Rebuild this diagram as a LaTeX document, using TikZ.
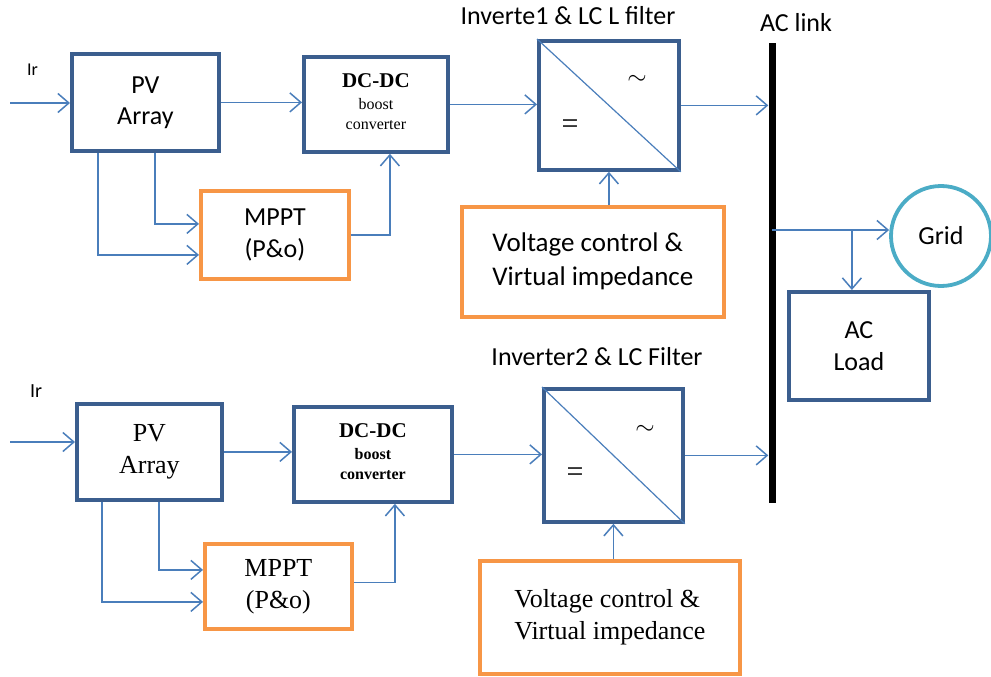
\documentclass[tikz,border=0pt]{standalone}
\usepackage{fontspec}
\setmainfont{Carlito}
\newfontfamily\tnr{Liberation Serif}
\usetikzlibrary{arrows.meta,calc}
\definecolor{boxblue}{HTML}{3B5E8E}
\definecolor{lineblue}{HTML}{4A7EBB}
\definecolor{orng}{HTML}{F79646}
\definecolor{tealc}{HTML}{4BACC6}
\begin{document}
\begin{tikzpicture}[x=1pt,y=-1pt,
  bbox/.style={draw=boxblue, line width=3.8pt, fill=white, inner sep=0pt, align=center, anchor=north west},
  obox/.style={draw=orng, line width=3.8pt, fill=white, inner sep=0pt, align=center, anchor=north west},
  arr/.style={draw=lineblue, line width=1.5pt, -{Straight Barb[length=11pt,width=19pt,line width=1.5pt]}},
  ln/.style={draw=lineblue, line width=1.5pt},
  big/.style={font=\fontsize{26}{32}\selectfont},
  bigser/.style={font=\tnr\fontsize{26}{32}\selectfont},
  sym/.style={font=\fontsize{28}{28}\selectfont, inner sep=0pt},
  eqsym/.style={font=\tnr\fontsize{30}{30}\selectfont, inner sep=0pt},
  lbl/.style={inner sep=0pt, anchor=base}]
\useasboundingbox (0,0) rectangle (991,677);
\fill[white] (0,0) rectangle (991,677);

% ---------- top chain ----------
\node[lbl, anchor=base west, font=\fontsize{18}{20}\selectfont] (ir1) at (27,75) {Ir};
\node[bbox, big, minimum width=147pt, minimum height=97pt] (pv1) at (70,52) {PV\\[-1pt]Array};
\node[bbox, minimum width=144pt, minimum height=95pt, font=\tnr\fontsize{16}{20}\selectfont] (dc1) at (302,55)
  {\begin{tabular}{@{}c@{}}\fontsize{21}{24}\selectfont\bfseries DC-DC\\[2pt]boost\\converter\end{tabular}};
\node[obox, big, minimum width=148pt, minimum height=88pt] (mppt1) at (199,189) {MPPT\\(P\&o)};
\node[bbox, minimum width=140pt, minimum height=129pt] (inv1) at (537,39) {};
\draw[ln, line width=1.2pt] (inv1.north west) -- (inv1.south east);
\node[sym] (ac1) at (637,80) {$\sim$};
\node[eqsym] (eq1) at (570,127) {=};
\node[lbl, big] (t1) at (568,25) {Inverte1 \& LC L filter};
\node[obox, font=\fontsize{27}{34}\selectfont, minimum width=262pt, minimum height=110pt] (vc1) at (460,205)
  {\begin{tabular}{@{}l@{}}Voltage control \&\\Virtual impedance\end{tabular}};

\coordinate (in1) at (10,103);
\draw[arr] (in1) -- (in1 -| pv1.west);
\draw[arr] (pv1.east) -- (pv1.east -| dc1.west);
\draw[arr] ([xshift=9.5pt]pv1.south) |- ([yshift=11pt]mppt1.west);
\draw[arr] ([xshift=-47.5pt]pv1.south) |- ([yshift=-20pt]mppt1.west);
\draw[arr] (mppt1.east) -| ([xshift=14pt]dc1.south);
\draw[arr] (dc1.east) -- (dc1.east -| inv1.west);
\draw[arr] (vc1.north -| inv1.south) -- (inv1.south);

% ---------- AC link ----------
\node[fill=black, inner sep=0pt, minimum width=7pt, minimum height=460pt] (bar) at (772,273) {};
\node[lbl, big] (aclink) at (796,32) {AC link};
\draw[arr] (inv1.east) -- (inv1.east -| bar.west);
\node[circle, draw=tealc, line width=3.8pt, minimum size=100pt, inner sep=0pt, big] (grid) at (941,236) {Grid};
\node[bbox, big, minimum width=140pt, minimum height=108pt] (load) at (787,290) {AC\\Load};
\coordinate (j1) at (772,230);
\draw[arr] (j1) -- (j1 -| grid.west);
\draw[arr] ([xshift=-7pt]load.north |- j1) -- ([xshift=-7pt]load.north);

% ---------- bottom chain ----------
\node[lbl, anchor=base west, font=\fontsize{20}{22}\selectfont] (ir2) at (30,397) {Ir};
\node[bbox, bigser, minimum width=145pt, minimum height=96pt] (pv2) at (75,402) {PV\\Array};
\node[bbox, minimum width=158pt, minimum height=95pt, font=\tnr\bfseries\fontsize{16}{20}\selectfont] (dc2) at (292,405)
  {\begin{tabular}{@{}c@{}}\fontsize{21}{24}\selectfont DC-DC\\[2pt]boost\\converter\end{tabular}};
\node[obox, bigser, minimum width=147pt, minimum height=85pt] (mppt2) at (203,542) {MPPT\\(P\&o)};
\node[bbox, minimum width=139pt, minimum height=133pt] (inv2) at (542,387) {};
\draw[ln, line width=1.2pt] (inv2.north west) -- (inv2.south east);
\node[sym] (ac2) at (645,430) {$\sim$};
\node[eqsym] (eq2) at (575,475) {=};
\node[lbl, big] (t2) at (597,365) {Inverter2 \& LC Filter};
\node[obox, font=\tnr\fontsize{26}{32}\selectfont, minimum width=260pt, minimum height=113pt] (vc2) at (478,559)
  {\begin{tabular}{@{}l@{}}Voltage control \&\\Virtual impedance\end{tabular}};

\coordinate (in2) at (10,442);
\draw[arr] (in2) -- (in2 -| pv2.west);
\draw[arr] (pv2.east) -- (pv2.east -| dc2.west);
\draw[arr] ([xshift=9.5pt]pv2.south) |- ([yshift=16.5pt]mppt2.west);
\draw[arr] ([xshift=-47.5pt]pv2.south) |- ([yshift=-15.5pt]mppt2.west);
\draw[arr] ([yshift=4pt]mppt2.east) -| ([xshift=22pt]dc2.south);
\draw[arr] (dc2.east) -- (dc2.east -| inv2.west);
\draw[arr] (inv2.east) -- (inv2.east -| bar.west);
\draw[arr] (vc2.north -| inv2.south) -- (inv2.south);
\end{tikzpicture}
\end{document}
